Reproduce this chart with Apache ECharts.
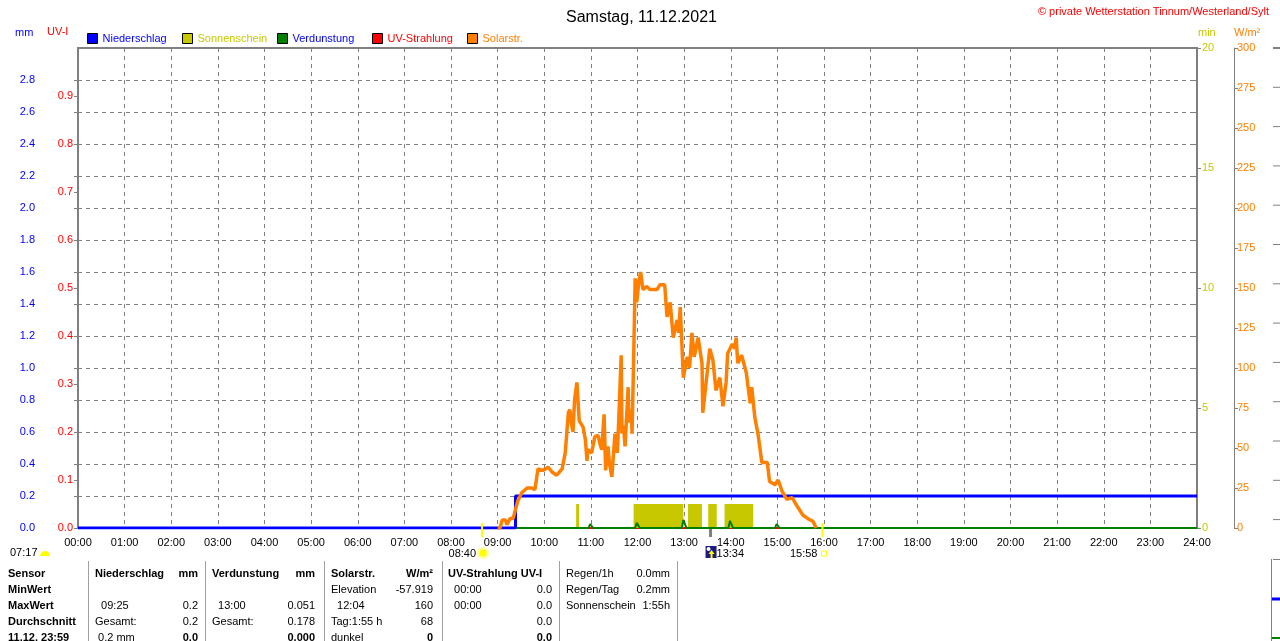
<!DOCTYPE html>
<html><head><meta charset="utf-8">
<script src="https://cdn.jsdelivr.net/npm/echarts@6/dist/echarts.min.js"></script>
<style>html,body{margin:0;padding:0;background:#fff}#c{width:1280px;height:641px}</style>
</head><body><div id="c"></div>
<script>
// ---------- data ----------
const chartTitle = 'Samstag, 11.12.2021';
const copyright = '© private Wetterstation Tinnum/Westerland/Sylt';
const seriesNames = ['Niederschlag', 'Sonnenschein', 'Verdunstung', 'UV-Strahlung', 'Solarstr.'];
const hourLabels = ['00:00','01:00','02:00','03:00','04:00','05:00','06:00','07:00','08:00','09:00','10:00','11:00','12:00',
  '13:00','14:00','15:00','16:00','17:00','18:00','19:00','20:00','21:00','22:00','23:00','24:00'];

// Niederschlag (cumulative, mm)
const precipTimes = ['00:00', '09:23', '24:00'];
const precipValues = [0, 0.2, 0.2];

// Sonnenschein (min per minute)
const sunStart = ['10:41', '11:55', '13:05', '13:31', '13:52'];
const sunEnd   = ['10:45', '12:59', '13:23', '13:42', '14:29'];
const sunValue = [1, 1, 1, 1, 1];

// Verdunstung (mm, hourly)
const evapTimes = ['11:00', '12:00', '13:00', '14:00', '15:00'];
const evapValues = [0.025, 0.032, 0.051, 0.045, 0.025];

// UV-Strahlung
const uvTimes = ['00:00', '24:00'];
const uvValues = [0, 0];

// Solarstrahlung (W/m²)
const solarTimes = ['09:00','09:03','09:06','09:10','09:12','09:16','09:20','09:22','09:26','09:31','09:38','09:44','09:48',
  '09:52','09:58','10:05','10:10','10:16','10:23','10:27','10:31','10:33','10:35','10:37','10:39','10:42','10:45','10:50',
  '10:53','10:55','10:56','11:01','11:05','11:09','11:12','11:14','11:17','11:19','11:22','11:24','11:27','11:31','11:34',
  '11:36','11:39','11:40','11:42','11:44','11:48','11:49','11:52','11:53','11:55','11:57','11:59','12:02','12:04','12:07',
  '12:12','12:16','12:25','12:29','12:35','12:38','12:42','12:46','12:51','12:53','12:55','12:59','13:04','13:07','13:10',
  '13:13','13:18','13:23','13:24','13:29','13:33','13:37','13:41','13:46','13:50','13:54','13:56','14:02','14:05','14:07',
  '14:09','14:14','14:20','14:25','14:27','14:31','14:35','14:40','14:47','14:50','14:57','15:01','15:06','15:12','15:19',
  '15:25','15:33','15:39','15:46','15:50'];
const solarValues = [0,0,5,5,2,6,6,7,17,22,25,25,24,
  37,36,38,35,33,37,47,72,74,65,60,80,91,67,63,
  55,42,49,47,57,58,52,49,71,36,51,40,32,59,47,
  69,108,59,64,51,88,66,74,59,105,156,141,155,160,149,
  151,149,149,152,152,132,141,119,130,122,138,94,107,100,122,
  107,119,103,72,94,112,105,86,94,76,91,109,115,112,119,
  103,108,97,78,88,69,59,41,41,29,27,30,23,18,19,
  14,8,6,4,0];

// events
const dawnLabel = '07:17';
const sunriseTime = '08:40';
const moonTime = '13:34';
const sunsetTime = '15:58';

// table
const tableSensor = ['Sensor', 'MinWert', 'MaxWert', 'Durchschnitt', '11.12. 23:59'];
const precipHead = ['Niederschlag', 'mm'];
const precipLeft = ['', '  09:25', 'Gesamt:', ' 0.2 mm'];
const precipRight = ['', '0.2', '0.2', '0.0'];
const evapHead = ['Verdunstung', 'mm'];
const evapLeft = ['', '  13:00', 'Gesamt:', ''];
const evapRight = ['', '0.051', '0.178', '0.000'];
const solarHead = ['Solarstr.', 'W/m²'];
const solarLeft = ['Elevation', '  12:04', 'Tag:1:55 h', 'dunkel'];
const solarRight = ['-57.919', '160', '68', '0'];
const uvHead = ['UV-Strahlung UV-I', ''];
const uvLeft = ['  00:00', '  00:00', '', ''];
const uvRight = ['0.0', '0.0', '0.0', '0.0'];
const summaryLabels = ['Regen/1h', 'Regen/Tag', 'Sonnenschein'];
const summaryValues = ['0.0mm', '0.2mm', '1:55h'];

// ---------- helpers ----------
const FF = '"Liberation Sans", Arial, sans-serif';
const toMin = s => { const [h, m] = s.split(':').map(Number); return h * 60 + m; };
const pair = (ts, vs) => ts.map((t, i) => [toMin(t), vs[i]]);

const evapData = [[0, 0]];
evapTimes.forEach((t, i) => {
  const m = toMin(t);
  evapData.push([m - 3, 0], [m - 1, evapValues[i]], [m + 1, evapValues[i]], [m + 3, 0]);
});
evapData.push([1440, 0]);

const sunData = sunStart.map((s, i) => [toMin(s), toMin(sunEnd[i]), sunValue[i]]);

const C = {blue: '#0000ff', sun: '#c8c800', green: '#008000', red: '#ff0000', orange: '#ff8000', grey: '#808080'};
const legendColors = [C.blue, C.sun, C.blue, C.red, C.orange];
const legendLefts = [87, 182, 277, 372, 467];

const chart = echarts.init(document.getElementById('c'), null, {renderer: 'canvas'});

const dashed = {color: C.grey, type: [4, 4], width: 1};
const option = {
  animation: false,
  backgroundColor: '#fff',
  textStyle: {fontFamily: FF},
  title: {text: chartTitle, left: 561, top: 5, textStyle: {fontFamily: FF, fontSize: 16, fontWeight: 'normal', color: '#000'}},
  legend: seriesNames.map((n, i) => ({
    data: [{name: n, textStyle: {color: legendColors[i]}}],
    left: legendLefts[i], top: 33, padding: 0, icon: 'rect', itemWidth: 10, itemHeight: 10,
    itemStyle: {borderColor: '#000', borderWidth: 1},
    selectedMode: false, textStyle: {fontFamily: FF, fontSize: 11, padding: [1, 0, 0, 0]}
  })),
  grid: {left: 78, right: 83, top: 48, bottom: 113, show: true, borderColor: C.grey, borderWidth: 2},
  xAxis: {
    type: 'value', min: 0, max: 1440, interval: 60,
    axisLine: {show: true, lineStyle: {color: C.grey, width: 2}},
    axisTick: {show: false},
    axisLabel: {formatter: v => hourLabels[Math.round(v / 60)], color: '#000', fontSize: 11, margin: 9, fontFamily: FF},
    splitLine: {show: true, lineStyle: dashed}
  },
  yAxis: [
    {type: 'value', position: 'left', offset: 38, min: 0, max: 3, interval: 0.2,
      axisLine: {show: true, lineStyle: {color: C.grey, width: 1}},
      axisTick: {show: true, length: 4, lineStyle: {color: C.grey}},
      axisLabel: {color: C.blue, fontSize: 11, margin: 5, fontFamily: FF, showMaxLabel: false, formatter: v => v.toFixed(1)},
      splitLine: {show: true, lineStyle: dashed}},
    {type: 'value', position: 'left', offset: 0, min: 0, max: 1, interval: 0.1,
      axisLine: {show: true, lineStyle: {color: C.grey, width: 2}},
      axisTick: {show: true, length: 4, lineStyle: {color: C.grey}},
      axisLabel: {color: C.red, fontSize: 11, margin: 5, fontFamily: FF, showMaxLabel: false, formatter: v => v.toFixed(1)},
      splitLine: {show: false}},
    {type: 'value', position: 'right', offset: 0, min: 0, max: 20, interval: 5,
      axisLine: {show: true, lineStyle: {color: C.grey, width: 2}},
      axisTick: {show: true, length: 4, lineStyle: {color: C.grey}},
      axisLabel: {color: C.sun, fontSize: 11, margin: 5, fontFamily: FF},
      splitLine: {show: false}},
    {type: 'value', position: 'right', offset: 37, min: 0, max: 300, interval: 25,
      axisLine: {show: true, lineStyle: {color: C.grey, width: 1}},
      axisTick: {show: true, length: 4, lineStyle: {color: C.grey}},
      axisLabel: {color: C.orange, fontSize: 11, margin: 3, fontFamily: FF},
      splitLine: {show: false}},
    {type: 'value', position: 'right', offset: 0, min: 0, max: 3, interval: 0.2,
      axisLine: {show: false},
      axisTick: {show: true, inside: true, length: 4, lineStyle: {color: C.grey}},
      axisLabel: {show: false}, splitLine: {show: false}}
  ],
  series: [
    {name: seriesNames[0], type: 'line', yAxisIndex: 0, step: 'end', symbol: 'none', color: C.blue, z: 4,
      lineStyle: {color: C.blue, width: 3}, data: pair(precipTimes, precipValues)},
    {name: seriesNames[1], type: 'custom', yAxisIndex: 2, color: C.sun, z: 2,
      encode: {x: [0, 1], y: 2},
      renderItem: (params, api) => {
        const p0 = api.coord([api.value(0), api.value(2)]);
        const p1 = api.coord([api.value(1), 0]);
        return {type: 'rect', shape: {x: p0[0], y: p0[1], width: p1[0] - p0[0], height: p1[1] - p0[1]},
          style: {fill: C.sun}};
      },
      data: sunData},
    {name: seriesNames[2], type: 'line', yAxisIndex: 0, symbol: 'none', color: C.green, z: 3,
      lineStyle: {color: C.green, width: 2}, data: evapData},
    {name: seriesNames[3], type: 'line', yAxisIndex: 1, symbol: 'none', color: C.red, z: 1,
      lineStyle: {color: C.red, width: 2}, data: pair(uvTimes, uvValues)},
    {name: seriesNames[4], type: 'line', yAxisIndex: 3, symbol: 'none', color: C.orange, z: 5,
      lineStyle: {color: C.orange, width: 3.5, join: 'bevel'}, data: pair(solarTimes, solarValues)}
  ]
};
chart.setOption(option);

// ---------- graphics (units, events, table) ----------
const g = [];
const txt = (text, x, y, color, opt = {}) => g.push({type: 'text', silent: true, z: 100, style: Object.assign({
  text, x, y, fill: color, fontFamily: FF, fontSize: 11, verticalAlign: 'middle', align: 'left'}, opt)});
const line = (x1, y1, x2, y2, stroke, w) => g.push({type: 'line', silent: true, z: 100,
  shape: {x1, y1, x2, y2}, style: {stroke, lineWidth: w}});

txt(copyright, 1269, 12, C.red, {align: 'right', fontSize: 11});
txt('mm', 15, 33, C.blue);
txt('UV-I', 47, 32, C.red);
txt('min', 1198, 33, C.sun);
txt('W/m²', 1234, 33, C.orange);

const xPix = t => chart.convertToPixel({xAxisIndex: 0}, toMin(t));
const y0 = chart.convertToPixel({yAxisIndex: 0}, 0);

// dawn
txt(dawnLabel, 10, 553, '#000');
g.push({type: 'sector', silent: true, z: 100, shape: {cx: 45, cy: 556, r: 5, r0: 0, startAngle: Math.PI, endAngle: 2 * Math.PI},
  style: {fill: '#ffff00'}});
// sunrise
const xr = xPix(sunriseTime);
line(xr, y0 - 5, xr, y0 + 9, '#ffff00', 2);
txt(sunriseTime, xr - 6, 554, '#000', {align: 'right'});
g.push({type: 'circle', silent: true, z: 100, shape: {cx: xr + 1, cy: 553, r: 6}, style: {fill: '#ffffa0'}});
g.push({type: 'circle', silent: true, z: 101, shape: {cx: xr + 1, cy: 553, r: 3.5}, style: {fill: '#ffff00'}});
// moon
const xm = xPix(moonTime);
line(xm, y0 + 1, xm, y0 + 9, C.grey, 3);
g.push({type: 'rect', silent: true, z: 100, shape: {x: xm - 5, y: 546, width: 11, height: 12}, style: {fill: '#1c1c80'}});
g.push({type: 'circle', silent: true, z: 101, shape: {cx: xm - 2, cy: 549, r: 2}, style: {fill: '#ffffff'}});
g.push({type: 'polygon', silent: true, z: 101, shape: {points: [[xm + 1, 550], [xm - 2, 554], [xm + 4, 554]]}, style: {fill: '#ffff00'}});
line(xm + 1, 553, xm + 1, 558, '#ffff00', 2);
txt(moonTime, xm + 6, 554, '#000');
// sunset
const xs = xPix(sunsetTime);
line(xs, y0 - 5, xs, y0 + 9, '#ffff00', 2);
txt(sunsetTime, xs - 5, 554, '#000', {align: 'right'});
g.push({type: 'rect', silent: true, z: 100, shape: {x: xs - 1, y: 551, width: 5, height: 5}, style: {fill: 'none', stroke: '#ffff00', lineWidth: 1}});

// table
const rowY = [574, 590, 606, 622, 638];
[88, 205, 324, 442, 559, 677].forEach(x => line(x + 0.5, 561, x + 0.5, 641, '#a0a0a0', 1));
tableSensor.forEach((s, i) => txt(s, 8, rowY[i], '#000', {fontWeight: 'bold'}));
const cols = [
  {head: precipHead, left: precipLeft, right: precipRight, lx: 95, rx: 198},
  {head: evapHead, left: evapLeft, right: evapRight, lx: 212, rx: 315},
  {head: solarHead, left: solarLeft, right: solarRight, lx: 331, rx: 433},
  {head: uvHead, left: uvLeft, right: uvRight, lx: 448, rx: 552}
];
cols.forEach(c => {
  txt(c.head[0], c.lx, rowY[0], '#000', {fontWeight: 'bold'});
  if (c.head[1]) txt(c.head[1], c.rx, rowY[0], '#000', {fontWeight: 'bold', align: 'right'});
  c.left.forEach((s, i) => { if (s) txt(s, c.lx, rowY[i + 1], '#000', {whiteSpace: 'pre'}); });
  c.right.forEach((s, i) => { if (s) txt(s, c.rx, rowY[i + 1], '#000', {align: 'right', fontWeight: i === 3 ? 'bold' : 'normal'}); });
});
summaryLabels.forEach((s, i) => txt(s, 566, rowY[i], '#000'));
summaryValues.forEach((s, i) => txt(s, 670, rowY[i], '#000', {align: 'right'}));

// partial neighbour panel at the right edge
line(1273, 48, 1280, 48, C.grey, 2);
for (let k = 1; k <= 12; k++) line(1273, 48 + k * 39.3, 1280, 48 + k * 39.3, C.grey, 1);
line(1271.5, 559, 1271.5, 641, C.grey, 1);
line(1273, 559.5, 1280, 559.5, C.grey, 1);
line(1272, 599, 1280, 599, C.blue, 3);
line(1272, 638, 1280, 638, C.green, 2);

chart.setOption({graphic: g});
</script>
</body></html>
